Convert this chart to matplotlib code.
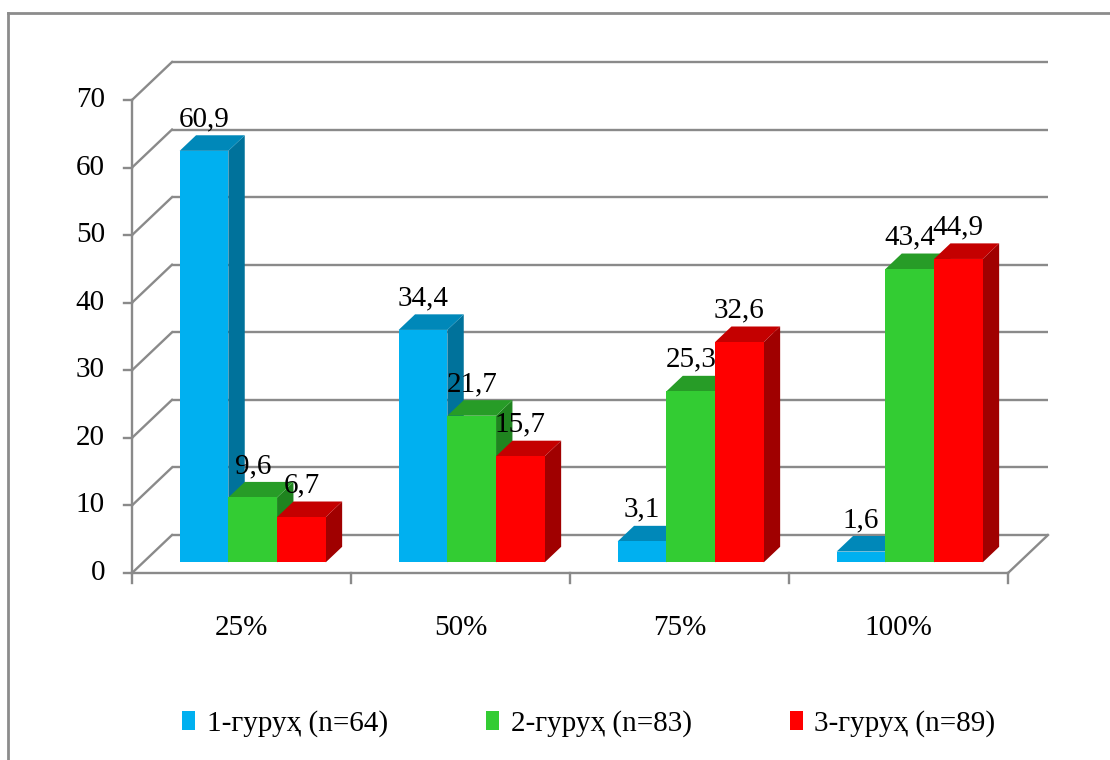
import matplotlib
matplotlib.use("Agg")
import matplotlib.pyplot as plt
from matplotlib.patches import Polygon, Patch
from matplotlib.lines import Line2D

plt.rcParams["font.family"] = ["Liberation Serif", "DejaVu Serif"]

# ---- data ----
categories = ["25%", "50%", "75%", "100%"]
group1 = [60.9, 34.4, 3.1, 1.6]
group2 = [9.6, 21.7, 25.3, 43.4]
group3 = [6.7, 15.7, 32.6, 44.9]
series_names = ["1-гуруҳ (n=64)", "2-гуруҳ (n=83)", "3-гуруҳ (n=89)"]
y_ticks = [0, 10, 20, 30, 40, 50, 60, 70]

series = [group1, group2, group3]
front_colors = ["#00B0F0", "#33CC33", "#FF0000"]
top_colors = ["#0088B9", "#279C27", "#C40000"]
side_colors = ["#00729B", "#1F841F", "#A00000"]
grid_color = "#8A8A8A"
FS = 21

# ---- canvas / oblique projection setup ----
W, H = 1110, 760
X0, Y0 = 132, 573            # pixel position of the front-left floor corner
UNIT_X = 219                 # pixels per category
UNIT_Y = 473 / 70            # pixels per value unit
DX = 40 / UNIT_X             # full depth of the floor, in data units
DY = 38 / UNIT_Y
F0 = 0.28                    # depth fraction of the bars' front faces
DEPTH = 0.41                 # depth fraction occupied by a bar
BW = 48.7 / UNIT_X           # bar width in category units
GAP = (1 - 3 * BW) / 2

fig = plt.figure(figsize=(W / 100, H / 100), dpi=100)
ax = fig.add_axes([0, 0, 1, 1])
ax.set_axis_off()
ax.set_xlim(-X0 / UNIT_X, (W - X0) / UNIT_X)
ax.set_ylim(-(H - Y0) / UNIT_Y, Y0 / UNIT_Y)

px = 1 / UNIT_X   # one pixel in x data units
py = 1 / UNIT_Y   # one pixel in y data units
n_cat = len(categories)
glw = 1.7

# back wall gridlines and left wall diagonals
for v in y_ticks:
    ax.plot([DX, n_cat + DX], [v + DY, v + DY], color=grid_color, lw=glw, zorder=1,
            solid_capstyle="butt")
    ax.plot([0, DX], [v, v + DY], color=grid_color, lw=glw, zorder=1)
    ax.plot([-8 * px, 0], [v, v], color=grid_color, lw=glw, zorder=1)
    ax.text(-27 * px, v, str(v), ha="right", va="center", fontsize=FS, color="black")

# front value axis, floor front edge and right floor edge
ax.plot([0, 0], [0, y_ticks[-1]], color=grid_color, lw=glw, zorder=1)
ax.plot([0, n_cat], [0, 0], color=grid_color, lw=glw, zorder=1)
ax.plot([n_cat, n_cat + DX], [0, DY], color=grid_color, lw=glw, zorder=1)
for i in range(n_cat + 1):
    ax.plot([i, i], [0, -10 * py], color=grid_color, lw=glw, zorder=1)
for i, cat in enumerate(categories):
    ax.text(i + 0.5, -55 * py, cat, ha="center", va="center", fontsize=FS)

# 3D-looking bars: front face via bar(), top and side faces as polygons
base = F0 * DY
ddx, ddy = DEPTH * DX, DEPTH * DY
z = 2
for i in range(n_cat):
    for s, vals in enumerate(series):
        v = vals[i]
        xl = i + GAP + s * BW + F0 * DX
        xr = xl + BW
        top = base + v
        side = Polygon([(xr, base), (xr + ddx, base + ddy), (xr + ddx, top + ddy), (xr, top)],
                       closed=True, facecolor=side_colors[s], edgecolor="none", zorder=z)
        lid = Polygon([(xl, top), (xr, top), (xr + ddx, top + ddy), (xl + ddx, top + ddy)],
                      closed=True, facecolor=top_colors[s], edgecolor="none", zorder=z)
        ax.add_patch(side)
        ax.add_patch(lid)
        ax.bar(xl, v, width=BW, bottom=base, align="edge", color=front_colors[s],
               edgecolor="none", zorder=z + 0.5)
        ax.annotate(f"{v:.1f}".replace(".", ","), xy=(xl + BW / 2, top + ddy),
                    xytext=(0, 6.5), textcoords="offset points", ha="center",
                    va="baseline", fontsize=FS, zorder=20)
        z += 1

# legend
handles = [Patch(facecolor=c, edgecolor="none") for c in front_colors]
fig.legend(handles, series_names, loc="center", bbox_to_anchor=(589 / W, 1 - 723.5 / H),
           ncol=3, frameon=False, fontsize=FS, handlelength=0.43, handleheight=0.6,
           handletextpad=0.4, columnspacing=3.38, borderaxespad=0)

# outer chart frame (top and left edges)
fig.add_artist(Line2D([8 / W, 1], [1 - 13 / H, 1 - 13 / H], transform=fig.transFigure,
                      color="#8C8C8C", lw=2))
fig.add_artist(Line2D([8 / W, 8 / W], [0, 1 - 13 / H], transform=fig.transFigure,
                      color="#8C8C8C", lw=2))

fig.savefig("out.png", dpi=100)
